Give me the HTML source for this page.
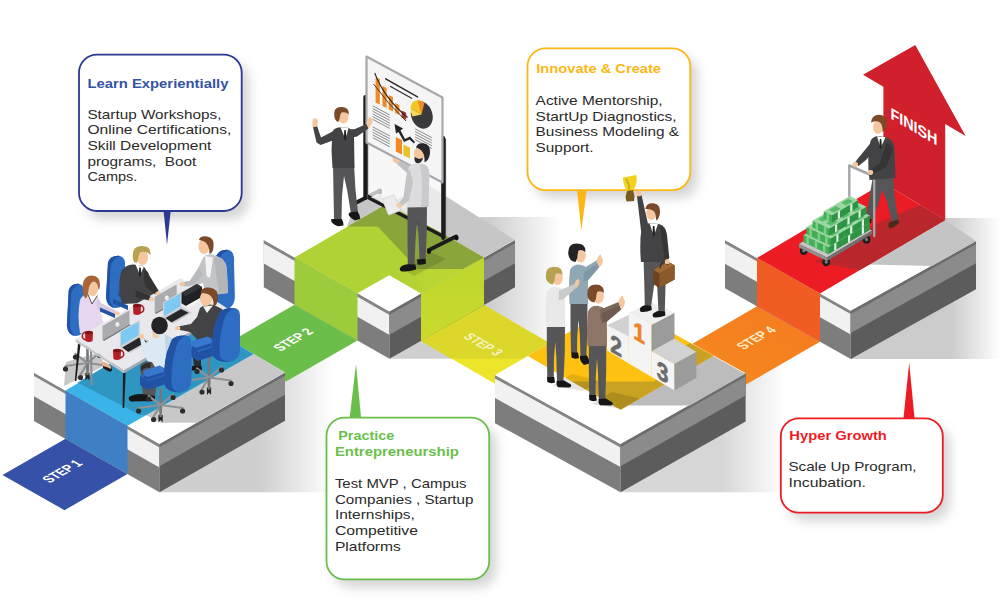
<!DOCTYPE html>
<html lang="en"><head><meta charset="utf-8"><title>Startup journey – steps</title>
<style>
html,body{margin:0;padding:0;background:#fff}
body{width:1000px;height:602px;overflow:hidden}
svg{display:block;font-family:"Liberation Sans",sans-serif}
</style></head><body>
<svg width="1000" height="602" viewBox="0 0 1000 602">
<rect width="1000" height="602" fill="#fff"/>
<defs>
<linearGradient id="gsh" x1="0" x2="1" y1="0" y2="0"><stop offset="0" stop-color="#000" stop-opacity=".17"/><stop offset="1" stop-color="#000" stop-opacity="0"/></linearGradient>
<linearGradient id="gsh2" x1="0" x2="1" y1="0" y2="0"><stop offset="0" stop-color="#000" stop-opacity=".13"/><stop offset="1" stop-color="#000" stop-opacity="0.02"/></linearGradient>
<linearGradient id="gL2" x1="0" x2="1" y1="0" y2="0"><stop offset="0" stop-color="#b1d235"/><stop offset=".55" stop-color="#b1d235"/><stop offset="1" stop-color="#c3d92d"/></linearGradient>
<linearGradient id="gR2" x1="0" x2="0" y1="0" y2="1"><stop offset="0" stop-color="#bdd62f"/><stop offset="1" stop-color="#cbda2c"/></linearGradient>
<linearGradient id="gS3" x1="0" x2="1" y1="0" y2="1"><stop offset="0" stop-color="#d6dc2c"/><stop offset="1" stop-color="#f0e628"/></linearGradient>
<linearGradient id="gS4" x1="0" x2="1" y1="1" y2="0"><stop offset="0" stop-color="#f68b1f"/><stop offset="1" stop-color="#f47a20"/></linearGradient>
<filter id="bsh" x="-20%" y="-20%" width="150%" height="150%"><feGaussianBlur stdDeviation="6"/></filter>

</defs>
<linearGradient id="gs1" gradientUnits="userSpaceOnUse" x1="260" x2="333" y1="0" y2="0"><stop offset="0" stop-color="#000" stop-opacity="0.19"/><stop offset="1" stop-color="#000" stop-opacity="0"/></linearGradient><polygon points="159.5,492.2 159.5,444.0 250.0,342.5 333.0,342.5 333.0,492.2" fill="url(#gs1)" />
<linearGradient id="gs2" gradientUnits="userSpaceOnUse" x1="490" x2="561" y1="0" y2="0"><stop offset="0" stop-color="#000" stop-opacity="0.19"/><stop offset="1" stop-color="#000" stop-opacity="0"/></linearGradient><polygon points="389.5,358.8 389.5,311.5 480.0,217.0 561.0,217.0 561.0,358.8" fill="url(#gs2)" />
<linearGradient id="gs3" gradientUnits="userSpaceOnUse" x1="720.6" x2="785.6" y1="0" y2="0"><stop offset="0" stop-color="#000" stop-opacity="0.16"/><stop offset="1" stop-color="#000" stop-opacity="0"/></linearGradient><polygon points="620.5,492.2 620.5,444.0 710.6,361.2 785.6,361.2 785.6,492.2" fill="url(#gs3)" />
<linearGradient id="gs4" gradientUnits="userSpaceOnUse" x1="951" x2="1000" y1="0" y2="0"><stop offset="0" stop-color="#000" stop-opacity="0.2"/><stop offset="1" stop-color="#000" stop-opacity="0"/></linearGradient><polygon points="850.7,359.0 850.7,310.7 941.0,218.0 1000.0,218.0 1000.0,359.0" fill="url(#gs4)" />
<polygon points="2.5,475.0 65.5,438.8 127.5,474.0 64.5,510.2" fill="#3551a8" />
<polygon points="223.0,345.8 294.5,304.8 357.5,340.6 286.0,381.6" fill="#6bbe4a" />
<polygon points="34.0,372.7 159.5,444.0 159.5,492.2 34.0,420.9" fill="#7d7d7d" />
<polygon points="34.0,372.7 159.5,444.0 159.5,467.6 34.0,396.3" fill="#f1f1f1" />
<polygon points="34.0,372.7 159.5,444.0 159.5,447.4 34.0,376.1" fill="#858585" />
<polygon points="159.5,444.0 285.0,372.5 285.0,420.7 159.5,492.2" fill="#5c5c5c" />
<polygon points="159.5,444.0 285.0,372.5 285.0,394.7 159.5,466.2" fill="#8b8b8b" />
<polygon points="159.5,444.0 285.0,372.5 285.0,375.7 159.5,447.2" fill="#6c6c6c" />
<polygon points="34.0,372.7 159.5,444.0 285.0,372.5 159.0,298.0" fill="#ffffff" />
<polygon points="146.0,415.0 161.0,422.8 196.4,422.8 285.0,372.5 253.5,353.9" fill="#c8c8c8" />
<polygon points="64.0,386.0 66.0,362.0 100.0,352.0 104.0,366.0" fill="#c8c8c8" />
<polygon points="65.5,390.6 127.5,425.8 253.5,353.9 190.5,316.6" fill="#3ab4e8" />
<polygon points="77.5,382.5 140.0,415.0 146.0,415.0 253.5,353.9 190.5,316.6" fill="#2c8fb6" opacity=".8"/>
<polygon points="65.5,390.6 127.5,425.8 127.5,474.0 65.5,438.8" fill="#3f7fc5" />
<polygon points="421.0,340.9 484.0,305.0 564.0,351.4 501.0,387.3" fill="#ece52a" />
<polygon points="421.0,340.9 484.0,305.0 564.0,351.4 552.0,358.5 451.0,358.5" fill="#dcd72b" />
<polygon points="263.8,240.0 389.5,311.5 389.5,358.8 263.8,287.3" fill="#7d7d7d" />
<polygon points="263.8,240.0 389.5,311.5 389.5,335.1 263.8,263.6" fill="#f1f1f1" />
<polygon points="263.8,240.0 389.5,311.5 389.5,314.9 263.8,243.4" fill="#858585" />
<polygon points="389.5,311.5 515.0,240.0 515.0,287.3 389.5,358.8" fill="#5c5c5c" />
<polygon points="389.5,311.5 515.0,240.0 515.0,263.2 389.5,334.7" fill="#8b8b8b" />
<polygon points="389.5,311.5 515.0,240.0 515.0,243.2 389.5,314.7" fill="#6c6c6c" />
<polygon points="263.8,240.0 389.5,311.5 515.0,240.0 389.0,169.0" fill="#ffffff" />
<polygon points="389.0,203.0 428.0,185.0 515.0,240.0 484.0,257.5" fill="#c6c6c6" />
<polygon points="294.5,257.5 389.2,202.5 484.0,257.7 421.0,293.6 389.2,275.3 357.5,293.3" fill="url(#gL2)" />
<polygon points="347.0,226.4 380.0,207.5 389.2,202.5 484.0,257.5 463.0,269.0 417.6,269.0 377.7,226.4" fill="#8aa63a" />
<polygon points="294.5,257.5 357.5,293.3 357.5,340.6 294.5,304.8" fill="#9ccb3b" />
<polygon points="421.0,293.6 484.0,257.7 484.0,305.0 421.0,340.9" fill="url(#gR2)" />
<polygon points="757.0,306.3 820.0,341.7 740.0,388.1 677.0,352.7" fill="url(#gS4)" />
<polygon points="495.0,375.0 620.5,444.0 620.5,492.2 495.0,423.2" fill="#7d7d7d" />
<polygon points="495.0,375.0 620.5,444.0 620.5,467.1 495.0,398.1" fill="#f1f1f1" />
<polygon points="495.0,375.0 620.5,444.0 620.5,447.4 495.0,378.4" fill="#858585" />
<polygon points="620.5,444.0 745.6,373.2 745.6,421.4 620.5,492.2" fill="#5c5c5c" />
<polygon points="620.5,444.0 745.6,373.2 745.6,395.4 620.5,466.2" fill="#8b8b8b" />
<polygon points="620.5,444.0 745.6,373.2 745.6,376.4 620.5,447.2" fill="#6c6c6c" />
<polygon points="495.0,375.0 620.5,444.0 745.6,373.2 619.0,303.0" fill="#ffffff" />
<polygon points="622.0,405.6 709.6,354.0 745.0,373.8 690.0,405.6" fill="#bcbcbc" />
<polygon points="650.6,320.7 713.4,355.8 745.0,373.8 690.0,344.0" fill="#c9c9c9" opacity="0"/>
<polygon points="527.8,356.0 620.6,409.8 713.4,355.8 650.6,320.7 621.3,337.7 590.3,319.7" fill="#fdc112" />
<polygon points="572.0,381.6 620.6,409.8 713.4,355.8 690.0,343.0 660.0,360.0 655.0,381.6" fill="#c9a224" />
<polygon points="725.0,240.0 850.7,310.7 850.7,359.0 725.0,288.3" fill="#7d7d7d" />
<polygon points="725.0,240.0 850.7,310.7 850.7,334.4 725.0,263.7" fill="#f1f1f1" />
<polygon points="725.0,240.0 850.7,310.7 850.7,314.1 725.0,243.4" fill="#858585" />
<polygon points="850.7,310.7 976.0,241.0 976.0,289.3 850.7,359.0" fill="#5c5c5c" />
<polygon points="850.7,310.7 976.0,241.0 976.0,263.2 850.7,332.9" fill="#8b8b8b" />
<polygon points="850.7,310.7 976.0,241.0 976.0,244.2 850.7,313.9" fill="#6c6c6c" />
<polygon points="725.0,240.0 850.7,310.7 976.0,241.0 851.0,168.0" fill="#ffffff" />
<polygon points="868.0,264.5 945.0,220.0 976.0,241.0 932.0,266.0" fill="#c4c4c4" />
<polygon points="757.0,258.0 820.0,293.4 945.2,220.0 883.4,183.0" fill="#ec1c24" />
<polygon points="815.0,262.0 860.0,270.0 945.2,220.0 920.0,205.0 880.0,222.0" fill="#b9272d" />
<polygon points="757.0,258.0 820.0,293.4 820.0,341.7 757.0,306.3" fill="#f15b24" />
<polygon points="883.4,183.0 945.2,220.0 945.2,124.0 965.6,136.0 915.3,45.0 863.0,74.8 883.4,86.8" fill="#d0202c" />
<text transform="matrix(0.866,-0.5,0.866,0.5,49.5,483.5)" font-size="14.2" font-weight="700" fill="#fff" opacity="1" textLength="39" lengthAdjust="spacingAndGlyphs">STEP 1</text>
<text transform="matrix(0.866,-0.5,0.866,0.5,280.5,351.8)" font-size="14.2" font-weight="700" fill="#fff" opacity="1" textLength="39" lengthAdjust="spacingAndGlyphs">STEP 2</text>
<text transform="matrix(0.866,0.5,-0.866,0.5,462.6,337.3)" font-size="14.2" font-weight="700" fill="#fff" opacity="0.72" textLength="38" lengthAdjust="spacingAndGlyphs">STEP 3</text>
<text transform="matrix(0.866,-0.5,0.866,0.5,743.7,349.9)" font-size="14.2" font-weight="700" fill="#fdecc8" opacity="1" textLength="38.5" lengthAdjust="spacingAndGlyphs">STEP 4</text>
<text transform="matrix(0.866,0.5,0,1,890.4,118.5)" font-size="16" font-weight="700" fill="#fff" opacity="1" textLength="54.4" lengthAdjust="spacingAndGlyphs">FINISH</text>
<rect x="86" y="62.6" width="162.7" height="156.4" rx="18" fill="#000" opacity=".17" filter="url(#bsh)"/>
<polygon points="163.5,210.0 170.8,210.0 167.0,244.7" fill="#2b3990" />
<rect x="79" y="54.6" width="162.7" height="156.4" rx="18" fill="#fff" stroke="#2b3990" stroke-width="1.8"/>
<text x="87.4" y="88.3" font-size="13.6" font-weight="700" fill="#3353a4" textLength="141" lengthAdjust="spacingAndGlyphs">Learn Experientially</text>
<text x="87.4" y="118.6" font-size="13.3" font-weight="400" fill="#2a2a2a" textLength="134" lengthAdjust="spacingAndGlyphs">Startup Workshops,</text>
<text x="87.4" y="134.3" font-size="13.3" font-weight="400" fill="#2a2a2a" textLength="144" lengthAdjust="spacingAndGlyphs">Online Certifications,</text>
<text x="87.4" y="150" font-size="13.3" font-weight="400" fill="#2a2a2a" textLength="124" lengthAdjust="spacingAndGlyphs">Skill Development</text>
<text xml:space="preserve" x="87.4" y="165.7" font-size="13.3" font-weight="400" fill="#2a2a2a" textLength="109" lengthAdjust="spacingAndGlyphs">programs,  Boot</text>
<text x="87.4" y="181.4" font-size="13.3" font-weight="400" fill="#2a2a2a" textLength="50" lengthAdjust="spacingAndGlyphs">Camps.</text>
<rect x="534.5" y="56.3" width="162.79999999999995" height="141.8" rx="18" fill="#000" opacity=".17" filter="url(#bsh)"/>
<polygon points="577.0,189.0 586.8,189.0 581.3,230.4" fill="#fdb714" />
<rect x="527.5" y="48.3" width="162.79999999999995" height="141.8" rx="18" fill="#fff" stroke="#fdb714" stroke-width="1.8"/>
<text x="536.3" y="73.1" font-size="13.6" font-weight="700" fill="#fdb714" textLength="124.7" lengthAdjust="spacingAndGlyphs">Innovate &amp; Create</text>
<text x="535.6" y="105" font-size="13.3" font-weight="400" fill="#2a2a2a" textLength="127" lengthAdjust="spacingAndGlyphs">Active Mentorship,</text>
<text x="535.6" y="120.7" font-size="13.3" font-weight="400" fill="#2a2a2a" textLength="141" lengthAdjust="spacingAndGlyphs">StartUp Diagnostics,</text>
<text x="535.6" y="136.4" font-size="13.3" font-weight="400" fill="#2a2a2a" textLength="143.4" lengthAdjust="spacingAndGlyphs">Business Modeling &amp;</text>
<text x="535.6" y="152.1" font-size="13.3" font-weight="400" fill="#2a2a2a" textLength="58" lengthAdjust="spacingAndGlyphs">Support.</text>
<rect x="333.5" y="425.7" width="162.7" height="161.59999999999997" rx="18" fill="#000" opacity=".17" filter="url(#bsh)"/>
<polygon points="349.5,419.0 361.2,419.0 356.0,364.0" fill="#6abf4b" />
<rect x="326.5" y="417.7" width="162.7" height="161.59999999999997" rx="18" fill="#fff" stroke="#6abf4b" stroke-width="1.8"/>
<text x="338.2" y="440.3" font-size="13.6" font-weight="700" fill="#6abf4b" textLength="56" lengthAdjust="spacingAndGlyphs">Practice</text>
<text x="334.9" y="456" font-size="13.6" font-weight="700" fill="#6abf4b" textLength="124" lengthAdjust="spacingAndGlyphs">Entrepreneurship</text>
<text x="334.9" y="487.9" font-size="13.3" font-weight="400" fill="#2a2a2a" textLength="131.6" lengthAdjust="spacingAndGlyphs">Test MVP , Campus</text>
<text x="334.9" y="503.6" font-size="13.3" font-weight="400" fill="#2a2a2a" textLength="138.5" lengthAdjust="spacingAndGlyphs">Companies , Startup</text>
<text x="334.9" y="519.3" font-size="13.3" font-weight="400" fill="#2a2a2a" textLength="80" lengthAdjust="spacingAndGlyphs">Internships,</text>
<text x="334.9" y="535" font-size="13.3" font-weight="400" fill="#2a2a2a" textLength="83" lengthAdjust="spacingAndGlyphs">Competitive</text>
<text x="334.9" y="550.7" font-size="13.3" font-weight="400" fill="#2a2a2a" textLength="66" lengthAdjust="spacingAndGlyphs">Platforms</text>
<rect x="787.8" y="426.4" width="162.0" height="94.30000000000007" rx="18" fill="#000" opacity=".17" filter="url(#bsh)"/>
<polygon points="903.3,420.0 914.7,420.0 909.2,362.8" fill="#ed1c24" />
<rect x="780.8" y="418.4" width="162.0" height="94.30000000000007" rx="18" fill="#fff" stroke="#ed1c24" stroke-width="1.8"/>
<text x="789.3" y="439.6" font-size="13.6" font-weight="700" fill="#ed1c24" textLength="97.6" lengthAdjust="spacingAndGlyphs">Hyper Growth</text>
<text x="788.5" y="471.4" font-size="13.3" font-weight="400" fill="#2a2a2a" textLength="128" lengthAdjust="spacingAndGlyphs">Scale Up Program,</text>
<text x="788.5" y="487.1" font-size="13.3" font-weight="400" fill="#2a2a2a" textLength="77.5" lengthAdjust="spacingAndGlyphs">Incubation.</text>
<line x1="87.5" y1="340" x2="87.5" y2="369" stroke="#77797b" stroke-width="2.6" stroke-linecap="round" />
<line x1="87.5" y1="363" x2="65.5" y2="366" stroke="#8f9294" stroke-width="2.2" stroke-linecap="round" />
<ellipse cx="65.5" cy="369" rx="2.6" ry="2.6" fill="#2d2d2d" />
<line x1="87.5" y1="363" x2="109.5" y2="366" stroke="#8f9294" stroke-width="2.2" stroke-linecap="round" />
<ellipse cx="109.5" cy="369" rx="2.6" ry="2.6" fill="#2d2d2d" />
<line x1="87.5" y1="363" x2="80.5" y2="374.5" stroke="#8f9294" stroke-width="2.2" stroke-linecap="round" />
<ellipse cx="80.5" cy="377.5" rx="2.6" ry="2.6" fill="#2d2d2d" />
<line x1="87.5" y1="363" x2="100.0" y2="352.5" stroke="#8f9294" stroke-width="2.2" stroke-linecap="round" />
<ellipse cx="100.0" cy="355.5" rx="2.6" ry="2.6" fill="#2d2d2d" />
<line x1="87.5" y1="363" x2="75.5" y2="354" stroke="#8f9294" stroke-width="2.2" stroke-linecap="round" />
<ellipse cx="75.5" cy="357" rx="2.6" ry="2.6" fill="#2d2d2d" />
<path d="M85.3,373 L89.7,373 L89.5,380.5 L87.5,378 L85.5,380.5 Z" fill="#222" />
<line x1="87.5" y1="365" x2="87.5" y2="374" stroke="#77797b" stroke-width="2.6" stroke-linecap="round" />
<path d="M68.7,290.24 Q71.4,282.96 79.5,284 Q85,285.56 84,295.44 L84.9,325.6 Q84,336 75.9,336 Q67.8,336 66.9,325.6 Z" fill="#2e6ec2" /><path d="M68.7,290.24 Q71.4,282.96 79.5,284 Q72.3,287.12 71.04,294.4 L69.96,325.6 Q70.5,334 75.9,336 Q67.8,336 66.9,325.6 Z" fill="#2252a3" />
<path d="M108.0,262.24 Q111.0,254.96 120.0,256 Q126,257.56 125,267.44 L125.9,297.6 Q125,308 116.0,308 Q107.0,308 106.0,297.6 Z" fill="#2e6ec2" /><path d="M108.0,262.24 Q111.0,254.96 120.0,256 Q112.0,259.12 110.6,266.4 L109.4,297.6 Q110.0,306 116.0,308 Q107.0,308 106.0,297.6 Z" fill="#2252a3" />
<path d="M215.725,257.08 Q218.95,248.82 228.625,250 Q235,251.77 234,262.98 L234.9,297.2 Q234,309 224.325,309 Q214.65,309 213.575,297.2 Z" fill="#2e6ec2" /><path d="M215.725,257.08 Q218.95,248.82 228.625,250 Q220.025,253.54 218.52,261.8 L217.23,297.2 Q217.875,307 224.325,309 Q214.65,309 213.575,297.2 Z" fill="#2252a3" />
<path d="M80,316 l18,8 l0,5 l-18,-8 Z" fill="#2252a3" />
<path d="M118,291 l16,7 l0,5 l-16,-7 Z" fill="#2252a3" />
<path d="M80,300 Q82,294 90,294 L97,296 Q101,300 100,308 L103,322 L113,329 L111,333 L98,328 L97,336 L80,333 Q77,315 80,300 Z" fill="#e6d7ee" />
<path d="M88,294 L92,303 L97,296 Z" fill="#fff" />
<path d="M87.5,293.5 L92,304 L97.5,295.5" fill="none" stroke="#555" stroke-width="1"/>
<ellipse cx="112.5" cy="331" rx="2.6" ry="2" fill="#f5c7a0" />
<ellipse cx="92.5" cy="288.5" rx="5.6" ry="7.4" fill="#f5c7a0" />
<path d="M83,291 Q81,277 91,275.5 Q100.5,275 100,286 Q99.5,289 98.6,290 Q98,281.5 93,281.5 Q89,284 88.5,290 Q88,297 85.5,298.5 Q83,296 83,291 Z" fill="#a9643a" />
<path d="M121,272 Q125,264 134,264.5 L143,266 Q148,270 148,278 L152,291 L160,297 L158,301 L147,296 L146,303 L122,304 Q117,288 121,272 Z" fill="#434345" />
<path d="M135.5,264.5 L140,275 L144,266.5 Z" fill="#fff" />
<path d="M139.2,267.5 L140.8,267.5 L141.2,275 L140,277 L138.8,275 Z" fill="#222" />
<ellipse cx="160" cy="299.5" rx="2.6" ry="2" fill="#f5c7a0" />
<ellipse cx="142.5" cy="257.5" rx="5.6" ry="7.6" fill="#f5c7a0" />
<path d="M133,259 Q131,246.5 141,246 Q151.5,245.5 150.5,255 Q147,250.5 140.5,252 Q138.2,255 138,260 L136.5,263 Q133.5,262.5 133,259 Z" fill="#b7a24f" />
<path d="M203,258 Q206,253.5 213,254.5 L221,258 Q227,262 227,272 L228,293 L206,296 L203,283 L190,287 L182,284.5 L183,281 L190,281.5 L198,268 Z" fill="#c3c4c6" />
<path d="M205,256 L206.5,276 L210,278 L213,257.5 Z" fill="#f4f4f4" />
<path d="M214,258 L221,258 Q227,262 227,272 L228,293 L219,294 Z" fill="#b4b5b7" />
<ellipse cx="181.5" cy="283" rx="2.8" ry="2.1" fill="#f5c7a0" />
<ellipse cx="204" cy="246.5" rx="5.6" ry="7.4" fill="#f5c7a0" />
<path d="M199,240 Q200,235.5 207,236.5 Q214.5,237.5 213.5,247 Q213,253 209.5,254 Q209.5,248 207.5,245 Q206,241 199,240 Z" fill="#7a4a2b" />
<polygon points="75.7,339.0 124.0,370.4 229.0,309.4 180.7,278.0" fill="#e9e9ed" />
<polygon points="75.7,339.0 124.0,370.4 124.0,373.2 75.7,341.8" fill="#c4c4ca" />
<polygon points="124.0,370.4 229.0,309.4 229.0,312.2 124.0,373.2" fill="#a9a9b0" />
<path d="M123,373 L125.6,373 L124.2,408 L122.6,408 Z" fill="#1d1d1f" />
<path d="M78,343.5 L80.4,345 L76.3,381 L74.8,381 Z" fill="#1d1d1f" />
<path d="M90,351 L92,352 L92.6,385 L90.6,385 Z" fill="#8a8c8e" />
<path d="M101,362 Q106,361 111,367 Q111.5,370 108,370 Q103,368.5 101,362 Z" fill="#e9b48c" />
<path d="M103,366 Q108,367 112,369.5 L111,371.5 Q106,371 103,368 Z" fill="#1b1b1b" />
<path d="M96.5,300 Q100,299 101,303 L116,310.5 L115,314.5 L99.5,311.5 Q96,308 96.5,300 Z" fill="#d9c9e3" />
<ellipse cx="117" cy="313.3" rx="2.7" ry="2.0" fill="#f5c7a0" />
<path d="M144,271 Q148,270 149,275 L158.5,290.5 L155.5,294.5 L146,287 Q143,280 144,271 Z" fill="#333334" />
<ellipse cx="158" cy="293.5" rx="2.7" ry="2.1" fill="#f5c7a0" />
<path d="M136,290 L150.5,296.5 L149.5,300.5 L135.5,297.5 Z" fill="#333334" />
<ellipse cx="151.5" cy="299.3" rx="2.6" ry="2.0" fill="#f5c7a0" />
<path d="M100,307.5 l15,6.5 l0,4 l-15,-6.5 Z" fill="#2252a3" />
<path d="M113,299 l15,6.5 l0,4.5 l-15,-6.5 Z" fill="#2252a3" />
<path d="M199,268 L203.5,275 L190,286.5 L183.5,286 L182.5,282.5 L189.5,281 Z" fill="#b9babc" />
<ellipse cx="182" cy="284.3" rx="2.7" ry="2.0" fill="#f5c7a0" />
<polygon points="102.5,340.0 129.5,324.3 129.5,310.3 102.5,326.0" fill="#a9abae" /><polygon points="102.5,340.0 129.5,324.3 131.0,325.2 104.0,340.9" fill="#7a7c7f" /><ellipse cx="117.35" cy="324.387" rx="2.1" ry="2.4" fill="#eeeeee" />
<polygon points="154.7,313.0 176.7,300.2 176.7,284.2 154.7,297.0" fill="#a9abae" /><polygon points="154.7,313.0 176.7,300.2 178.2,301.1 156.2,313.9" fill="#7a7c7f" /><ellipse cx="166.79999999999998" cy="297.98199999999997" rx="2.1" ry="2.4" fill="#eeeeee" />
<ellipse cx="85.5" cy="336" rx="3.2" ry="3.6" fill="none" stroke="#a51d22" stroke-width="1.6"/><path d="M85,332.5 L93,332.5 L92.6,341 Q89,343 85.4,341 Z" fill="#b32126" /><ellipse cx="89" cy="332.5" rx="4" ry="1.7" fill="#7c1418" />
<ellipse cx="140.5" cy="309" rx="3.2" ry="3.6" fill="none" stroke="#a51d22" stroke-width="1.6"/><path d="M133,305.5 L141,305.5 L140.6,314 Q137,316 133.4,314 Z" fill="#b32126" /><ellipse cx="137" cy="305.5" rx="4" ry="1.7" fill="#7c1418" />
<polygon points="181.0,293.0 197.0,284.0 202.0,287.0 202.0,297.0 186.0,306.0 181.0,303.0" fill="#202124" />
<polygon points="181.0,293.0 197.0,284.0 202.0,287.0 186.0,296.0" fill="#34363a" />
<polygon points="186.0,306.0 202.0,297.0 204.0,299.0 188.0,308.5" fill="#f2f2f2" />
<polygon points="163.0,317.5 181.5,306.8 191.9,312.8 173.4,323.5" fill="#c9cbce" /><polygon points="165.5,318.1 181.0,309.0 188.7,312.8 171.4,322.5" fill="#26272a" /><polygon points="163.0,317.5 181.5,306.8 181.5,291.8 163.0,302.5" fill="#cfd3d6" /><polygon points="164.2,316.1 180.3,306.6 180.3,293.6 164.2,303.1" fill="#7cc9f3" />
<polygon points="119.8,347.0 139.8,335.4 150.2,341.4 130.2,353.0" fill="#c9cbce" /><polygon points="122.3,347.6 139.3,337.6 147.0,341.4 128.2,352.0" fill="#26272a" /><polygon points="119.8,347.0 139.8,335.4 139.8,319.9 119.8,331.5" fill="#cfd3d6" /><polygon points="121.0,345.6 138.6,335.2 138.6,321.7 121.0,332.1" fill="#7cc9f3" />
<ellipse cx="120.5" cy="354" rx="3.2" ry="3.6" fill="none" stroke="#a51d22" stroke-width="1.6"/><path d="M113,350.5 L121,350.5 L120.6,359 Q117,361 113.4,359 Z" fill="#b32126" /><ellipse cx="117" cy="350.5" rx="4" ry="1.7" fill="#7c1418" />
<path d="M200,308 Q206,303 214,305 L222,309 Q226,314 225,324 L223,345 L199,352 L196,338 L190,332 L180,330 L178,326.5 L191,324 L197,317 Z" fill="#434345" />
<path d="M203,306.5 L207,313 L213,305.5 Z" fill="#f2f2f2" />
<ellipse cx="177.5" cy="328" rx="2.8" ry="2" fill="#f5c7a0" />
<ellipse cx="206" cy="298.5" rx="6" ry="7.6" fill="#f5c7a0" />
<path d="M200.5,293 Q201,287 209,287.5 Q218.5,288.5 218,298 Q217.5,305.5 213.5,306.5 Q214,300 211.5,297 Q209,293 200.5,293 Z" fill="#7a4a2b" />
<path d="M192,352 L204,348 L204,356 L201,358 L201,367 L194,367 L193,358 Z" fill="#2d2d2f" />
<path d="M192,366 L201.5,366 L202,370.5 L191.5,370.5 Z" fill="#161616" />
<line x1="209" y1="358" x2="209" y2="383.5" stroke="#77797b" stroke-width="2.6" stroke-linecap="round" />
<line x1="209" y1="377.5" x2="187" y2="380.5" stroke="#8f9294" stroke-width="2.2" stroke-linecap="round" />
<ellipse cx="187" cy="383.5" rx="2.6" ry="2.6" fill="#2d2d2d" />
<line x1="209" y1="377.5" x2="231" y2="380.5" stroke="#8f9294" stroke-width="2.2" stroke-linecap="round" />
<ellipse cx="231" cy="383.5" rx="2.6" ry="2.6" fill="#2d2d2d" />
<line x1="209" y1="377.5" x2="202" y2="389.0" stroke="#8f9294" stroke-width="2.2" stroke-linecap="round" />
<ellipse cx="202" cy="392.0" rx="2.6" ry="2.6" fill="#2d2d2d" />
<line x1="209" y1="377.5" x2="221.5" y2="367.0" stroke="#8f9294" stroke-width="2.2" stroke-linecap="round" />
<ellipse cx="221.5" cy="370.0" rx="2.6" ry="2.6" fill="#2d2d2d" />
<line x1="209" y1="377.5" x2="197" y2="368.5" stroke="#8f9294" stroke-width="2.2" stroke-linecap="round" />
<ellipse cx="197" cy="371.5" rx="2.6" ry="2.6" fill="#2d2d2d" />
<path d="M206.8,387.5 L211.2,387.5 L211,395.0 L209,392.5 L207,395.0 Z" fill="#222" />
<line x1="209" y1="379.5" x2="209" y2="388.5" stroke="#77797b" stroke-width="2.6" stroke-linecap="round" />
<path d="M190,347 L214,339 L222,344 L222,353 L198,361 L190,356 Z" fill="#2252a3" />
<path d="M190,347 L214,339 L222,344 L198,352 Z" fill="#2e6ec2" />
<path d="M220.05,311.78 Q224.325,307.46 234.3,308.0 Q240.0,308.54 240.0,315.56 L240.0,350.12 Q239.43,360.38 229.17,362.0 Q214.92,362.0 212.64,354.44 Q210.93,340.4 214.92,324.2 Z" fill="#2e6ec2" /><path d="M220.05,311.78 Q224.325,307.46 234.3,308.0 Q227.175,310.7 224.325,318.8 Q217.77,340.4 220.05,356.6 Q221.475,360.92 229.17,362.0 Q214.92,362.0 212.64,354.44 Q210.93,340.4 214.92,324.2 Z" fill="#2252a3" />
<path d="M192,341 l15.5,-4.5 l4,2 l0,4.5 l-15.5,5 l-4,-2 Z" fill="#3878cf" />
<path d="M192,346 l4,2 l15.5,-5 l0,3 l-15.5,5 l-4,-2 Z" fill="#2252a3" />
<path d="M151,338 Q157,332 165,334.5 L172,338 Q176,343 175,352 L174,372 L150,377 L148,362 L142,350 L140,338 L143,337 L147,346 Z" fill="#dbe9f3" />
<path d="M165,334.5 L172,338 Q176,343 175,352 L174,372 L166,374 Z" fill="#c3d5e2" />
<ellipse cx="141.5" cy="336.5" rx="2.6" ry="2.4" fill="#f5c7a0" />
<ellipse cx="159.5" cy="325.5" rx="8.3" ry="8.8" fill="#232325" />
<path d="M152,330 Q154,335 159,335.5 L158,338.5 L153,337 Z" fill="#f5c7a0" />
<path d="M140,366 Q143,360 152,362 L158,372 L155,397 L143,397 Z" fill="#565658" />
<path d="M141,367 Q145,362 151,363 L150,368 Q146,366 141,371 Z" fill="#2c2c2e" />
<path d="M129,397 Q136,392.5 146,394.5 L155,396 L155,401 L131,401.5 Q128,400 129,397 Z" fill="#161616" />
<line x1="160.6" y1="389" x2="160.6" y2="411" stroke="#77797b" stroke-width="2.6" stroke-linecap="round" />
<line x1="160.6" y1="405" x2="138.6" y2="408" stroke="#8f9294" stroke-width="2.2" stroke-linecap="round" />
<ellipse cx="138.6" cy="411" rx="2.6" ry="2.6" fill="#2d2d2d" />
<line x1="160.6" y1="405" x2="182.6" y2="408" stroke="#8f9294" stroke-width="2.2" stroke-linecap="round" />
<ellipse cx="182.6" cy="411" rx="2.6" ry="2.6" fill="#2d2d2d" />
<line x1="160.6" y1="405" x2="153.6" y2="416.5" stroke="#8f9294" stroke-width="2.2" stroke-linecap="round" />
<ellipse cx="153.6" cy="419.5" rx="2.6" ry="2.6" fill="#2d2d2d" />
<line x1="160.6" y1="405" x2="173.1" y2="394.5" stroke="#8f9294" stroke-width="2.2" stroke-linecap="round" />
<ellipse cx="173.1" cy="397.5" rx="2.6" ry="2.6" fill="#2d2d2d" />
<line x1="160.6" y1="405" x2="148.6" y2="396" stroke="#8f9294" stroke-width="2.2" stroke-linecap="round" />
<ellipse cx="148.6" cy="399" rx="2.6" ry="2.6" fill="#2d2d2d" />
<path d="M158.4,415 L162.79999999999998,415 L162.6,422.5 L160.6,420 L158.6,422.5 Z" fill="#222" />
<line x1="160.6" y1="407" x2="160.6" y2="416" stroke="#77797b" stroke-width="2.6" stroke-linecap="round" />
<path d="M140,376 L164,368 L172,373 L172,382 L148,390 L140,385 Z" fill="#2252a3" />
<path d="M140,376 L164,368 L172,373 L148,381 Z" fill="#2e6ec2" />
<path d="M171.9,339.49 Q176.1,334.93 185.9,335.5 Q191.5,336.07 191.5,343.48 L191.5,379.96 Q190.94,390.79 180.86,392.5 Q166.86,392.5 164.62,384.52 Q162.94,369.7 166.86,352.6 Z" fill="#2e6ec2" /><path d="M171.9,339.49 Q176.1,334.93 185.9,335.5 Q178.9,338.35 176.1,346.9 Q169.66,369.7 171.9,386.8 Q173.3,391.36 180.86,392.5 Q166.86,392.5 164.62,384.52 Q162.94,369.7 166.86,352.6 Z" fill="#2252a3" />
<path d="M143.5,370.5 l16,-5 l4,2 l0,4.5 l-16,5 l-4,-2 Z" fill="#3878cf" />
<path d="M143.5,375 l4,2 l16,-5 l0,3 l-16,5 l-4,-2 Z" fill="#2252a3" />
<polygon points="347.0,226.4 380.0,207.5 382.0,194.5 355.0,204.0" fill="#c6c6c6" />
<line x1="353.5" y1="204" x2="380" y2="190.5" stroke="#1c1c1e" stroke-width="4.0" stroke-linecap="round" />
<line x1="429" y1="250" x2="456" y2="236.5" stroke="#1c1c1e" stroke-width="4.0" stroke-linecap="round" />
<line x1="366" y1="196.5" x2="442.5" y2="236" stroke="#1c1c1e" stroke-width="3.2" stroke-linecap="round" />
<ellipse cx="354" cy="205.5" rx="2.2" ry="2.4" fill="#111" />
<ellipse cx="380" cy="192" rx="2.2" ry="2.4" fill="#111" />
<ellipse cx="429" cy="251.5" rx="2.2" ry="2.4" fill="#111" />
<ellipse cx="456.5" cy="238" rx="2.2" ry="2.4" fill="#111" />
<polygon points="367.0,142.0 442.0,182.0 442.0,233.0 367.0,194.0" fill="#f4f4f4" opacity=".75"/>
<line x1="365.3" y1="97" x2="365.3" y2="198" stroke="#1c1c1e" stroke-width="4.0" stroke-linecap="round" stroke-linecap="butt"/>
<line x1="367.6" y1="98" x2="367.6" y2="198" stroke="#4a4a4c" stroke-width="1.2" stroke-linecap="round" stroke-linecap="butt"/>
<line x1="443.2" y1="138" x2="443.2" y2="238" stroke="#1c1c1e" stroke-width="4.0" stroke-linecap="round" stroke-linecap="butt"/>
<line x1="445.5" y1="139" x2="445.5" y2="238" stroke="#4a4a4c" stroke-width="1.2" stroke-linecap="round" stroke-linecap="butt"/>
<polygon points="366.5,56.5 442.5,97.5 442.5,182.5 366.5,142.5" fill="#f5f5f5" stroke="#a6a8ab" stroke-width="2.2" stroke-linejoin="round"/>
<polygon points="375.6,77.0 379.8,79.1 379.8,104.6 375.6,102.5" fill="#ef8a25" />
<polygon points="382.4,86.0 386.6,88.1 386.6,108.1 382.4,106.0" fill="#ef8a25" />
<polygon points="388.8,95.0 393.0,97.1 393.0,111.6 388.8,109.5" fill="#ef8a25" />
<polygon points="395.2,103.0 399.4,105.1 399.4,115.1 395.2,113.0" fill="#ef8a25" />
<polygon points="401.6,110.5 406.2,112.8 406.2,119.8 401.6,117.5" fill="#b3322b" />
<path d="M374.7,73 Q384,98 407.6,117.5" fill="none" stroke="#2a2a2a" stroke-width="1.1"/>
<path d="M373.5,84 Q388,104 406,121" fill="none" stroke="#2a2a2a" stroke-width="0.9"/>
<line x1="385.7" y1="78.9" x2="417.5" y2="96.9" stroke="#2b2b2b" stroke-width="1.5" stroke-linecap="round" />
<line x1="390.6" y1="86.5" x2="411.6" y2="98.2" stroke="#2b2b2b" stroke-width="1.2" stroke-linecap="round" />
<line x1="373" y1="106.0" x2="389.5" y2="114.8" stroke="#8a8a8a" stroke-width="1.0" stroke-linecap="round" />
<line x1="373" y1="108.7" x2="389.5" y2="117.5" stroke="#8a8a8a" stroke-width="1.0" stroke-linecap="round" />
<line x1="373" y1="111.4" x2="389.5" y2="120.2" stroke="#8a8a8a" stroke-width="1.0" stroke-linecap="round" />
<line x1="373" y1="114.1" x2="389.5" y2="122.89999999999999" stroke="#8a8a8a" stroke-width="1.0" stroke-linecap="round" />
<line x1="373" y1="116.8" x2="389.5" y2="125.6" stroke="#8a8a8a" stroke-width="1.0" stroke-linecap="round" />
<line x1="373" y1="119.5" x2="389.5" y2="128.3" stroke="#8a8a8a" stroke-width="1.0" stroke-linecap="round" />
<line x1="373" y1="127.0" x2="389.5" y2="135.8" stroke="#8a8a8a" stroke-width="1.0" stroke-linecap="round" />
<line x1="373" y1="129.7" x2="389.5" y2="138.5" stroke="#8a8a8a" stroke-width="1.0" stroke-linecap="round" />
<line x1="373" y1="132.4" x2="389.5" y2="141.20000000000002" stroke="#8a8a8a" stroke-width="1.0" stroke-linecap="round" />
<line x1="373" y1="135.1" x2="389.5" y2="143.9" stroke="#8a8a8a" stroke-width="1.0" stroke-linecap="round" />
<line x1="373" y1="137.8" x2="389.5" y2="146.60000000000002" stroke="#8a8a8a" stroke-width="1.0" stroke-linecap="round" />
<line x1="415.5" y1="129.0" x2="431.5" y2="137.5" stroke="#8a8a8a" stroke-width="1.0" stroke-linecap="round" />
<line x1="415.5" y1="131.7" x2="431.5" y2="140.2" stroke="#8a8a8a" stroke-width="1.0" stroke-linecap="round" />
<line x1="415.5" y1="134.4" x2="431.5" y2="142.9" stroke="#8a8a8a" stroke-width="1.0" stroke-linecap="round" />
<line x1="415.5" y1="137.1" x2="431.5" y2="145.6" stroke="#8a8a8a" stroke-width="1.0" stroke-linecap="round" />
<line x1="415.5" y1="139.8" x2="431.5" y2="148.3" stroke="#8a8a8a" stroke-width="1.0" stroke-linecap="round" />
<ellipse cx="421.8" cy="115" rx="10.6" ry="14" fill="#3a3a3c" transform="rotate(-18 421.8 115)"/>
<path d="M421.5,114.5 L410.5,108 Q411,101 417.5,100.2 L423,101.5 Z" fill="#f3c623" />
<path d="M421.5,114.5 L417.5,100.2 Q421,100 424.5,103 Z" fill="#ef8a25" />
<path d="M421.5,114.5 L410.5,108 Q410.8,113.5 412.5,116.5 Z" fill="#f6d959" />
<path d="M394.5,124 L403,128.5 L400.5,130.5 L405,139 L410,136.5 L415,142 L414,143.5 L409.5,139.5 L404,142 L398.5,132 L396,133.5 Z" fill="#242424" />
<polygon points="395.8,137.0 402.0,140.1 402.0,154.6 395.8,151.5" fill="#ef8a25" />
<polygon points="403.4,144.5 410.0,147.8 410.0,158.6 403.4,155.3" fill="#e7c12a" />
<path d="M333,164 L354,164 L355.5,190 L358,212 L351,214 L347.5,192 L344,176 L342,196 L341.5,219.5 L334,219 L333.5,192 Z" fill="#565658" />
<path d="M331.3,219 L341.8,219 Q344,222.5 343.5,225.5 L338,226.3 Q332.5,224 331.3,221.5 Z" fill="#161616" />
<path d="M349.5,212.5 L357.5,211.5 Q360.5,215.5 360.3,219 L355,220.5 Q349.5,217.5 348.5,214.5 Z" fill="#161616" />
<path d="M349,129.5 L355,129 L366.5,124 L368.5,128.5 L357,136.5 L350,138 Z" fill="#434345" />
<path d="M366.5,124 Q367,118.5 370,117 Q373,118 372.5,122.5 L368.8,128.5 Z" fill="#f5c7a0" />
<path d="M332.5,131.5 Q335,127.3 341,127.3 L348,127.8 Q353.5,129.5 354,136 L354.5,168 L332.5,168 L331.5,150 Z" fill="#434345" />
<path d="M340.5,127.3 L345.5,139.5 L348.5,127.8 Z" fill="#fff" />
<path d="M344.3,130 L345.8,130 L346.4,138 L345.2,141 L343.9,138 Z" fill="#1f1f1f" />
<path d="M334.5,130.5 L321,137.5 L317,126 L313,127 L316.5,142.5 L320.5,145 L335.5,139.5 Z" fill="#434345" />
<path d="M312.8,127.2 Q311.5,121.5 313.5,118.5 Q316.5,117.5 318,120.5 L317.3,126.2 Z" fill="#f5c7a0" />
<ellipse cx="343.3" cy="116.5" rx="5.3" ry="7" fill="#f5c7a0" />
<path d="M334.3,116 Q333,107.5 340.5,107 Q349.5,106.5 348.8,114.5 Q346,111.5 341.5,112.5 Q339.6,115 339.5,119 L338.3,122 Q334.8,121 334.3,116 Z" fill="#7a4a2b" />
<polygon points="399.0,268.0 430.0,252.0 446.0,259.0 414.0,276.0" fill="#000" opacity=".12"/>
<path d="M407.5,203 L427,203 L426.8,232 L425.5,259.5 L419.5,260 L418.5,236 L417,222 L415.5,240 L414.5,265.5 L407.8,265.5 L407.5,236 Z" fill="#565658" />
<path d="M399.8,268.5 Q401.5,264.5 408,264.2 L415.5,264.5 L416.4,269.5 Q408,272 401,271.2 Q399.6,270.5 399.8,268.5 Z" fill="#161616" />
<path d="M417,259.5 L425.6,258.8 L426,263.5 Q421,265.5 417.5,264.5 Z" fill="#161616" />
<path d="M411,166 L399.5,160.5 L397,164 L408.5,174.5 L414,175 Z" fill="#bfc0c2" />
<path d="M399.8,160.6 Q396,157.3 393,158 Q391.8,160.5 394.5,162.5 L397.2,164 Z" fill="#f5c7a0" />
<path d="M408.5,168 Q411,163 418,163.3 L424.5,164.5 Q429.3,167 429.3,174 L428.5,207 L406.8,207.5 Q406,186 408.5,168 Z" fill="#dcdcde" />
<path d="M420,164 L424.5,164.5 Q429.3,167 429.3,174 L428.5,207 L421,207.3 Q423.5,186 420,164 Z" fill="#c9cacc" />
<polygon points="381.9,199.0 394.0,194.8 401.0,210.5 388.5,215.2" fill="#ececec" stroke="#c9c9c9" stroke-width=".6"/>
<path d="M410,170 Q406.5,171 406,178 L403.5,197 L398.5,203.5 L401.5,206.5 L409,200.5 L413,182 Z" fill="#c3c4c6" />
<ellipse cx="399.3" cy="205.2" rx="2.8" ry="2.3" fill="#f5c7a0" />
<ellipse cx="419.2" cy="154" rx="5.4" ry="7.2" fill="#f5c7a0" />
<path d="M414.5,157 Q414,163.5 418.5,163.3 Q422,162.5 423,158 L419,159 Z" fill="#2b2b2d" />
<path d="M416,147.5 Q417,142.8 423.5,143.3 Q430.8,144.5 430,153 Q429.3,160.5 424.5,162.3 Q424.8,155 422.5,152 Q420.5,148.5 416,147.5 Z" fill="#29292b" />
<polygon points="552.0,386.0 572.0,374.0 600.0,381.0 583.0,391.0" fill="#000" opacity=".10"/>
<path d="M570.5,301 L587.5,301 L587.2,330 L586.5,356 L580.5,356.5 L579.8,334 L578.5,320 L577.3,336 L577,353 L571,353 L570.5,328 Z" fill="#565658" />
<path d="M571.3,352.5 L578,352.5 L579,358 Q574.5,359.5 571.5,357.5 Z" fill="#161616" />
<path d="M580,356 L587,355.5 Q589.8,359.5 589.4,363.5 L584,365 Q580.5,362 580,359 Z" fill="#161616" />
<path d="M570,270 Q572.5,264.5 579,264.5 L584.5,266 Q588,269 588,275 L588.2,304 L569.5,304 Q568.3,285 570,270 Z" fill="#8fa8b4" />
<path d="M583,268.5 L596.5,260.5 L598.3,264.5 L586.5,277.5 L582,278 Z" fill="#8fa8b4" />
<path d="M596.5,260.5 Q598,255.5 600.5,254.5 Q602.5,256.5 601,260.5 L598.4,264.7 Z" fill="#f5c7a0" />
<path d="M584,272 L597.5,263.5 L599.5,267 L588,280.5 L583.5,281 Z" fill="#7f98a4" />
<path d="M597.5,263.5 Q599.5,258.5 602,258 Q603.8,260 602.3,263.8 L599.6,267.2 Z" fill="#f5c7a0" />
<ellipse cx="580.5" cy="255.5" rx="5.3" ry="7" fill="#f5c7a0" />
<path d="M568.3,254 Q567.5,243.5 576.5,243.5 Q586,243.5 585.3,252 Q582,249 578.5,250.5 Q577.5,254 577.3,258 L575.5,262 Q569,261 568.3,254 Z" fill="#232325" />
<path d="M546.8,323 L565,323 L564.8,352 L563.5,381 L557,381.5 L556.3,356 L555.3,342 L554,358 L553.8,377.5 L547.3,377.5 L546.8,350 Z" fill="#565658" />
<path d="M547,377 L554.2,377 L555,382.5 Q550.5,384 547.3,382 Z" fill="#161616" />
<path d="M556.5,381 L564,380.5 L571,384.5 Q571.8,387.3 569,387.6 L558,387.3 Q556,385 556.5,381 Z" fill="#161616" />
<path d="M546.5,292.5 Q549,286.5 556,286.8 L561,288.3 Q565,291.5 565,298 L565.2,327 L546,327 Q544.8,308 546.5,292.5 Z" fill="#e9e9ea" />
<path d="M559,290.5 L574.5,284 L576,288 L563,299.5 L558.5,300 Z" fill="#c9cacb" />
<path d="M574.3,284 Q576,279.5 578.5,279 Q580.3,281 578.8,284.8 L576.2,288.2 Z" fill="#f5c7a0" />
<ellipse cx="557.5" cy="278" rx="5.3" ry="7" fill="#f5c7a0" />
<path d="M545.8,277 Q545,266.8 554,266.8 Q563,266.8 562.5,275 Q559.5,272.3 555.8,273.8 Q554.5,277 554.5,281 L552.8,284.5 Q546.5,283.5 545.8,277 Z" fill="#b7a24f" />
<polygon points="606.9,325.6 628.8,336.6 650.7,325.6 628.8,314.7" fill="#d2d2d3" />
<polygon points="606.9,325.6 628.8,336.6 628.8,363.5 606.9,350.3" fill="#f4f4f4" />
<polygon points="628.8,312.8 651.6,324.7 651.6,377.0 628.8,363.5" fill="#f4f4f4" />
<polygon points="651.6,324.7 674.5,312.8 674.5,339.0 651.6,351.5" fill="#9b9b9c" />
<polygon points="628.8,312.8 651.6,324.7 674.5,312.8 651.6,301.9" fill="#efefef" />
<polygon points="651.6,351.2 674.5,364.0 696.4,352.1 674.5,338.4" fill="#d2d2d3" />
<polygon points="651.6,351.2 674.5,364.0 674.5,390.5 651.6,377.0" fill="#f4f4f4" />
<polygon points="674.5,364.0 696.4,352.1 696.4,377.7 674.5,390.5" fill="#9b9b9c" />
<text transform="matrix(0.866,0.5,0,1,610.3,351)" font-size="25" font-weight="700" fill="#6c6c6e" stroke="#6c6c6e" stroke-width=".7" textLength="13.5" lengthAdjust="spacingAndGlyphs">2</text>
<text transform="matrix(0.866,0.5,0,1,633.2,338)" font-size="25" font-weight="700" fill="#ef8223" stroke="#ef8223" stroke-width=".7" textLength="13.5" lengthAdjust="spacingAndGlyphs">1</text>
<text transform="matrix(0.866,0.5,0,1,656.8,377.5)" font-size="25" font-weight="700" fill="#6c6c6e" stroke="#6c6c6e" stroke-width=".7" textLength="13.5" lengthAdjust="spacingAndGlyphs">3</text>
<path d="M643.5,258 L664.8,258 L665.5,285 L664.8,312 L658.5,312.5 L657.3,288 L655.3,272 L653.5,290 L651,307 L644.8,306.5 L644.3,284 Z" fill="#565658" />
<path d="M639.7,309 Q641.5,305.5 646,305.3 L651.3,306 L651.8,310 Q646,312.5 640.5,311.8 Z" fill="#161616" />
<path d="M652.5,315 Q654.5,311.3 659,311 L665,311.5 L665.4,315.5 Q659,318 653.3,317.3 Z" fill="#161616" />
<polygon points="653.3,270.0 668.5,262.0 674.6,265.3 674.6,279.5 659.5,287.7 653.3,284.3" fill="#6e4320" />
<polygon points="659.5,273.3 674.6,265.3 674.6,279.5 659.5,287.7" fill="#8b5a2b" />
<polygon points="653.3,270.0 668.5,262.0 674.6,265.3 659.5,273.3" fill="#a06a35" />
<path d="M660,268.5 Q660.5,262.5 665,261.5 Q668,262.5 667.5,265" fill="none" stroke="#4a2c12" stroke-width="1.3"/>
<path d="M641.5,228 Q644,223.3 650,223.2 L659,224 Q665.5,226 666.3,233 L668,262 L641,262 Q639.3,245 641.5,228 Z" fill="#434345" />
<path d="M649.5,223.2 L653.8,236 L658,224 Z" fill="#fff" />
<path d="M652.9,226 L654.5,226 L655,234 L653.8,237 L652.5,234 Z" fill="#1f1f1f" />
<path d="M660,226 Q666,227 667,235 L669.3,258 L665,262 L662.5,244 Z" fill="#353536" />
<ellipse cx="667.3" cy="261.5" rx="2.4" ry="2.6" fill="#f5c7a0" />
<path d="M641,230.5 L637,196 L641.5,195 L648.5,226 L645.5,236 Z" fill="#434345" />
<ellipse cx="638.8" cy="193.5" rx="2.8" ry="3" fill="#f5c7a0" />
<path d="M622.8,177.5 L636.5,175 Q637.5,183 634,189 Q631,192.5 627.5,191.5 Q623.5,187 622.8,177.5 Z" fill="#f1d21f" />
<path d="M626,179 Q630,184 629,190.5" fill="none" stroke="#c9a416" stroke-width="1.4"/>
<path d="M627,191 L633,190 L634.5,196 L634,201 L626.5,201.5 L625.5,197 Z" fill="#7b5a1e" />
<ellipse cx="651.5" cy="213" rx="5.3" ry="7" fill="#f5c7a0" />
<path d="M645.3,209 Q646,203 653,203.3 Q660.5,204 660,212 Q659.5,219 656,220.5 Q656.3,214 654,211.5 Q651.5,208.5 645.3,209 Z" fill="#7a4a2b" />
<polygon points="592.0,404.0 612.0,392.0 640.0,398.5 622.0,409.0" fill="#000" opacity=".13"/>
<path d="M588.8,341 L606.3,341 L606.2,370 L605.3,399 L598.8,399.5 L598,374 L597,358 L595.8,376 L595.5,395.5 L589.3,395.5 L588.8,368 Z" fill="#565658" />
<path d="M589,395 L596,395 L596.8,400.5 Q592.5,402 589.3,400 Z" fill="#161616" />
<path d="M598.5,399 L605.8,398.5 L612.5,402.5 Q613.3,405.3 610.5,405.6 L600,405.3 Q598,403 598.5,399 Z" fill="#161616" />
<path d="M588,311.5 Q590.5,305.5 597.5,305.8 L602.5,307.3 Q606.8,310.5 606.8,317 L607,346 L587.5,346 Q586.3,327 588,311.5 Z" fill="#8d7667" />
<path d="M600.5,309.5 L618.5,302 L620.3,306 L605,318.5 L600,319 Z" fill="#7d6759" />
<path d="M618.3,302 Q620,296.5 622.5,295.5 Q624.5,297.5 623,301.8 L620.4,306.2 Z" fill="#f5c7a0" />
<path d="M602,313 L619.5,305.5 L621.3,309.5 L606.5,322 L601.5,322.5 Z" fill="#6f5b4f" />
<path d="M619.5,305.5 Q621.3,300 623.8,299 Q625.8,301 624.3,305.3 L621.5,309.7 Z" fill="#f5c7a0" />
<ellipse cx="598.5" cy="296.5" rx="5.4" ry="7.2" fill="#f5c7a0" />
<path d="M587.3,295 Q586.5,284.5 595.5,284.5 Q604.5,284.5 604,293 Q601,290.3 597.3,291.8 Q596,295 596,299 L594.3,302.5 Q588,301.5 587.3,295 Z" fill="#7a4a2b" />
<path d="M873,176 L893,174 L894.5,196 L898.5,221 L892.5,223 L886.5,200 L882,190 L878,205 L872,219.5 L866,218 L869,200 Z" fill="#565658" />
<path d="M862.5,218 L871.5,219 L871,223 Q866,224 862,222 Z" fill="#161616" />
<path d="M889,222.5 L897.5,219.5 L899.5,222.5 Q895,227.5 889,228.5 Q887.5,225 889,222.5 Z" fill="#4a2c1a" />
<line x1="849.3" y1="166" x2="849.3" y2="208" stroke="#a3a5a8" stroke-width="2.4" stroke-linecap="round" />
<line x1="849.3" y1="165.5" x2="874.2" y2="176.5" stroke="#a3a5a8" stroke-width="2.6" stroke-linecap="round" />
<line x1="874.2" y1="176.5" x2="874.2" y2="236" stroke="#a3a5a8" stroke-width="2.4" stroke-linecap="round" />
<path d="M870.5,141 Q873,136 879,136 L887,137.5 Q893.5,140 894.5,148 L895.5,178 L869.5,180 Q866.5,160 870.5,141 Z" fill="#434345" />
<path d="M877,136.3 L880.5,148 L885.5,137.3 Z" fill="#fff" />
<path d="M879.8,139 L881.3,139 L881.8,146.5 L880.6,149.5 L879.3,146.5 Z" fill="#1f1f1f" />
<path d="M871.5,142 L857.5,159 L855,162.5 L858.5,166 L866,160 L875,150 Z" fill="#434345" />
<ellipse cx="855.3" cy="164.5" rx="2.7" ry="2.4" fill="#f5c7a0" />
<path d="M886.5,143 Q893,145 892.5,153 L886,167 L872.5,174.5 L870.5,170.5 L880,163 L883.5,152 Z" fill="#353536" />
<ellipse cx="870.5" cy="172.5" rx="2.7" ry="2.4" fill="#f5c7a0" />
<ellipse cx="878" cy="127" rx="5" ry="6.8" fill="#f5c7a0" />
<path d="M871,122.5 Q871.8,114.5 879.5,114.8 Q887,115.5 886.5,123.5 Q886,130.5 882.5,132 Q882.8,125.5 880.5,123 Q878,120 871,122.5 Z" fill="#7a4a2b" />
<ellipse cx="803.8" cy="250.8" rx="4.0" ry="4.3" fill="#1e1e1f" />
<ellipse cx="803.8" cy="250.8" rx="1.6" ry="1.8" fill="#77797b" />
<ellipse cx="826.2" cy="262" rx="4.0" ry="4.3" fill="#1e1e1f" />
<ellipse cx="826.2" cy="262" rx="1.6" ry="1.8" fill="#77797b" />
<ellipse cx="866.5" cy="239.5" rx="4.0" ry="4.3" fill="#1e1e1f" />
<ellipse cx="866.5" cy="239.5" rx="1.6" ry="1.8" fill="#77797b" />
<polygon points="799.0,243.9 827.0,257.4 872.0,230.5 844.0,217.5" fill="#c6c7c9" />
<polygon points="799.0,243.9 827.0,257.4 827.0,261.0 799.0,247.5" fill="#8e9092" />
<polygon points="827.0,257.4 872.0,230.5 872.0,234.0 827.0,261.0" fill="#6f7173" />
<polygon points="831.1,226.0 839.4,230.0 839.4,222.8 831.1,218.8" fill="#43ae55" /><polygon points="839.4,230.0 853.2,221.9 853.2,214.7 839.4,222.8" fill="#2c9443" /><polygon points="831.1,218.8 839.4,222.8 853.2,214.7 844.9,210.7" fill="#9fd8a6" /><polygon points="836.2,217.6 841.2,220.0 848.1,215.9 843.1,213.5" fill="#57bb67" /><polygon points="845.2,226.6 847.4,225.3 847.4,218.1 845.2,219.4" fill="#dff2e1" /><polygon points="834.0,227.4 836.5,228.6 836.5,221.4 834.0,220.2" fill="#7fcf8c" />
<polygon points="839.4,230.0 847.7,234.0 847.7,226.8 839.4,222.8" fill="#43ae55" /><polygon points="847.7,234.0 861.5,225.9 861.5,218.7 847.7,226.8" fill="#2c9443" /><polygon points="839.4,222.8 847.7,226.8 861.5,218.7 853.2,214.7" fill="#9fd8a6" /><polygon points="844.5,221.6 849.5,224.0 856.4,219.9 851.4,217.5" fill="#57bb67" /><polygon points="853.5,230.6 855.7,229.3 855.7,222.1 853.5,223.4" fill="#dff2e1" /><polygon points="842.3,231.4 844.8,232.6 844.8,225.4 842.3,224.2" fill="#7fcf8c" />
<polygon points="847.7,234.0 856.0,238.0 856.0,230.8 847.7,226.8" fill="#43ae55" /><polygon points="856.0,238.0 869.8,229.9 869.8,222.7 856.0,230.8" fill="#2c9443" /><polygon points="847.7,226.8 856.0,230.8 869.8,222.7 861.5,218.7" fill="#9fd8a6" /><polygon points="852.8,225.6 857.8,228.0 864.7,223.9 859.7,221.5" fill="#57bb67" /><polygon points="861.8,234.6 864.0,233.3 864.0,226.1 861.8,227.4" fill="#dff2e1" /><polygon points="850.6,235.4 853.1,236.6 853.1,229.4 850.6,228.2" fill="#7fcf8c" />
<polygon points="817.3,234.1 825.6,238.1 825.6,230.9 817.3,226.9" fill="#43ae55" /><polygon points="825.6,238.1 839.4,230.0 839.4,222.8 825.6,230.9" fill="#2c9443" /><polygon points="817.3,226.9 825.6,230.9 839.4,222.8 831.1,218.8" fill="#9fd8a6" /><polygon points="822.4,225.7 827.4,228.1 834.3,224.0 829.3,221.6" fill="#57bb67" /><polygon points="831.4,234.7 833.6,233.4 833.6,226.2 831.4,227.5" fill="#dff2e1" /><polygon points="820.2,235.5 822.7,236.7 822.7,229.5 820.2,228.3" fill="#7fcf8c" />
<polygon points="825.6,238.1 833.9,242.1 833.9,234.9 825.6,230.9" fill="#43ae55" /><polygon points="833.9,242.1 847.7,234.0 847.7,226.8 833.9,234.9" fill="#2c9443" /><polygon points="825.6,230.9 833.9,234.9 847.7,226.8 839.4,222.8" fill="#9fd8a6" /><polygon points="830.7,229.7 835.7,232.1 842.6,228.0 837.6,225.6" fill="#57bb67" /><polygon points="839.7,238.7 841.9,237.4 841.9,230.2 839.7,231.5" fill="#dff2e1" /><polygon points="828.5,239.5 831.0,240.7 831.0,233.5 828.5,232.3" fill="#7fcf8c" />
<polygon points="833.9,242.1 842.2,246.1 842.2,238.9 833.9,234.9" fill="#43ae55" /><polygon points="842.2,246.1 856.0,238.0 856.0,230.8 842.2,238.9" fill="#2c9443" /><polygon points="833.9,234.9 842.2,238.9 856.0,230.8 847.7,226.8" fill="#9fd8a6" /><polygon points="839.0,233.7 844.0,236.1 850.9,232.0 845.9,229.6" fill="#57bb67" /><polygon points="848.0,242.7 850.2,241.4 850.2,234.2 848.0,235.5" fill="#dff2e1" /><polygon points="836.8,243.5 839.3,244.7 839.3,237.5 836.8,236.3" fill="#7fcf8c" />
<polygon points="803.5,242.2 811.8,246.2 811.8,239.0 803.5,235.0" fill="#43ae55" /><polygon points="811.8,246.2 825.6,238.1 825.6,230.9 811.8,239.0" fill="#2c9443" /><polygon points="803.5,235.0 811.8,239.0 825.6,230.9 817.3,226.9" fill="#9fd8a6" /><polygon points="808.6,233.8 813.6,236.2 820.5,232.1 815.5,229.7" fill="#57bb67" /><polygon points="817.6,242.8 819.8,241.5 819.8,234.3 817.6,235.6" fill="#dff2e1" /><polygon points="806.4,243.6 808.9,244.8 808.9,237.6 806.4,236.4" fill="#7fcf8c" />
<polygon points="811.8,246.2 820.1,250.2 820.1,243.0 811.8,239.0" fill="#43ae55" /><polygon points="820.1,250.2 833.9,242.1 833.9,234.9 820.1,243.0" fill="#2c9443" /><polygon points="811.8,239.0 820.1,243.0 833.9,234.9 825.6,230.9" fill="#9fd8a6" /><polygon points="816.9,237.8 821.9,240.2 828.8,236.1 823.8,233.7" fill="#57bb67" /><polygon points="825.9,246.8 828.1,245.5 828.1,238.3 825.9,239.6" fill="#dff2e1" /><polygon points="814.7,247.6 817.2,248.8 817.2,241.6 814.7,240.4" fill="#7fcf8c" />
<polygon points="820.1,250.2 828.4,254.2 828.4,247.0 820.1,243.0" fill="#43ae55" /><polygon points="828.4,254.2 842.2,246.1 842.2,238.9 828.4,247.0" fill="#2c9443" /><polygon points="820.1,243.0 828.4,247.0 842.2,238.9 833.9,234.9" fill="#9fd8a6" /><polygon points="825.2,241.8 830.2,244.2 837.1,240.1 832.1,237.7" fill="#57bb67" /><polygon points="834.2,250.8 836.4,249.5 836.4,242.3 834.2,243.6" fill="#dff2e1" /><polygon points="823.0,251.6 825.5,252.8 825.5,245.6 823.0,244.4" fill="#7fcf8c" />
<polygon points="831.9,219.2 840.2,223.2 840.2,216.0 831.9,212.0" fill="#43ae55" /><polygon points="840.2,223.2 854.0,215.1 854.0,207.9 840.2,216.0" fill="#2c9443" /><polygon points="831.9,212.0 840.2,216.0 854.0,207.9 845.7,203.9" fill="#9fd8a6" /><polygon points="837.0,210.8 842.0,213.2 848.9,209.1 843.9,206.7" fill="#57bb67" /><polygon points="846.0,219.8 848.2,218.5 848.2,211.3 846.0,212.6" fill="#dff2e1" /><polygon points="834.8,220.6 837.3,221.8 837.3,214.6 834.8,213.4" fill="#7fcf8c" />
<polygon points="840.2,223.2 848.5,227.2 848.5,220.0 840.2,216.0" fill="#43ae55" /><polygon points="848.5,227.2 862.3,219.1 862.3,211.9 848.5,220.0" fill="#2c9443" /><polygon points="840.2,216.0 848.5,220.0 862.3,211.9 854.0,207.9" fill="#9fd8a6" /><polygon points="845.3,214.8 850.3,217.2 857.2,213.1 852.2,210.7" fill="#57bb67" /><polygon points="854.3,223.8 856.5,222.5 856.5,215.3 854.3,216.6" fill="#dff2e1" /><polygon points="843.1,224.6 845.6,225.8 845.6,218.6 843.1,217.4" fill="#7fcf8c" />
<polygon points="847.7,226.8 856.0,230.8 856.0,223.6 847.7,219.6" fill="#43ae55" /><polygon points="856.0,230.8 869.8,222.7 869.8,215.5 856.0,223.6" fill="#2c9443" /><polygon points="847.7,219.6 856.0,223.6 869.8,215.5 861.5,211.5" fill="#9fd8a6" /><polygon points="852.8,218.4 857.8,220.8 864.7,216.7 859.7,214.3" fill="#57bb67" /><polygon points="861.8,227.4 864.0,226.1 864.0,218.9 861.8,220.2" fill="#dff2e1" /><polygon points="850.6,228.2 853.1,229.4 853.1,222.2 850.6,221.0" fill="#7fcf8c" />
<polygon points="820.2,226.1 828.5,230.1 828.5,222.9 820.2,218.9" fill="#43ae55" /><polygon points="828.5,230.1 842.3,222.0 842.3,214.8 828.5,222.9" fill="#2c9443" /><polygon points="820.2,218.9 828.5,222.9 842.3,214.8 834.0,210.8" fill="#9fd8a6" /><polygon points="825.3,217.7 830.3,220.1 837.2,216.0 832.2,213.6" fill="#57bb67" /><polygon points="834.3,226.7 836.5,225.4 836.5,218.2 834.3,219.5" fill="#dff2e1" /><polygon points="823.1,227.5 825.6,228.7 825.6,221.5 823.1,220.3" fill="#7fcf8c" />
<polygon points="828.5,230.1 836.8,234.1 836.8,226.9 828.5,222.9" fill="#43ae55" /><polygon points="836.8,234.1 850.6,226.0 850.6,218.8 836.8,226.9" fill="#2c9443" /><polygon points="828.5,222.9 836.8,226.9 850.6,218.8 842.3,214.8" fill="#9fd8a6" /><polygon points="833.6,221.7 838.6,224.1 845.5,220.0 840.5,217.6" fill="#57bb67" /><polygon points="842.6,230.7 844.8,229.4 844.8,222.2 842.6,223.5" fill="#dff2e1" /><polygon points="831.4,231.5 833.9,232.7 833.9,225.5 831.4,224.3" fill="#7fcf8c" />
<polygon points="836.0,233.7 844.3,237.7 844.3,230.5 836.0,226.5" fill="#43ae55" /><polygon points="844.3,237.7 858.1,229.6 858.1,222.4 844.3,230.5" fill="#2c9443" /><polygon points="836.0,226.5 844.3,230.5 858.1,222.4 849.8,218.4" fill="#9fd8a6" /><polygon points="841.1,225.3 846.1,227.7 853.0,223.6 848.0,221.2" fill="#57bb67" /><polygon points="850.1,234.3 852.3,233.0 852.3,225.8 850.1,227.1" fill="#dff2e1" /><polygon points="838.9,235.1 841.4,236.3 841.4,229.1 838.9,227.9" fill="#7fcf8c" />
<polygon points="806.4,234.2 814.7,238.2 814.7,231.0 806.4,227.0" fill="#43ae55" /><polygon points="814.7,238.2 828.5,230.1 828.5,222.9 814.7,231.0" fill="#2c9443" /><polygon points="806.4,227.0 814.7,231.0 828.5,222.9 820.2,218.9" fill="#9fd8a6" /><polygon points="811.5,225.8 816.5,228.2 823.4,224.1 818.4,221.7" fill="#57bb67" /><polygon points="820.5,234.8 822.7,233.5 822.7,226.3 820.5,227.6" fill="#dff2e1" /><polygon points="809.3,235.6 811.8,236.8 811.8,229.6 809.3,228.4" fill="#7fcf8c" />
<polygon points="814.7,238.2 823.0,242.2 823.0,235.0 814.7,231.0" fill="#43ae55" /><polygon points="823.0,242.2 836.8,234.1 836.8,226.9 823.0,235.0" fill="#2c9443" /><polygon points="814.7,231.0 823.0,235.0 836.8,226.9 828.5,222.9" fill="#9fd8a6" /><polygon points="819.8,229.8 824.8,232.2 831.7,228.1 826.7,225.7" fill="#57bb67" /><polygon points="828.8,238.8 831.0,237.5 831.0,230.3 828.8,231.6" fill="#dff2e1" /><polygon points="817.6,239.6 820.1,240.8 820.1,233.6 817.6,232.4" fill="#7fcf8c" />
<polygon points="822.2,241.8 830.5,245.8 830.5,238.6 822.2,234.6" fill="#43ae55" /><polygon points="830.5,245.8 844.3,237.7 844.3,230.5 830.5,238.6" fill="#2c9443" /><polygon points="822.2,234.6 830.5,238.6 844.3,230.5 836.0,226.5" fill="#9fd8a6" /><polygon points="827.3,233.4 832.3,235.8 839.2,231.7 834.2,229.3" fill="#57bb67" /><polygon points="836.3,242.4 838.5,241.1 838.5,233.9 836.3,235.2" fill="#dff2e1" /><polygon points="825.1,243.2 827.6,244.4 827.6,237.2 825.1,236.0" fill="#7fcf8c" />
<polygon points="836.1,214.0 844.4,218.0 844.4,210.8 836.1,206.8" fill="#43ae55" /><polygon points="844.4,218.0 858.2,209.9 858.2,202.7 844.4,210.8" fill="#2c9443" /><polygon points="836.1,206.8 844.4,210.8 858.2,202.7 849.9,198.7" fill="#9fd8a6" /><polygon points="841.2,205.6 846.2,208.0 853.1,203.9 848.1,201.5" fill="#57bb67" /><polygon points="850.2,214.6 852.4,213.3 852.4,206.1 850.2,207.4" fill="#dff2e1" /><polygon points="839.0,215.4 841.5,216.6 841.5,209.4 839.0,208.2" fill="#7fcf8c" />
<polygon points="844.4,218.0 852.7,222.0 852.7,214.8 844.4,210.8" fill="#43ae55" /><polygon points="852.7,222.0 866.5,213.9 866.5,206.7 852.7,214.8" fill="#2c9443" /><polygon points="844.4,210.8 852.7,214.8 866.5,206.7 858.2,202.7" fill="#9fd8a6" /><polygon points="849.5,209.6 854.5,212.0 861.4,207.9 856.4,205.5" fill="#57bb67" /><polygon points="858.5,218.6 860.7,217.3 860.7,210.1 858.5,211.4" fill="#dff2e1" /><polygon points="847.3,219.4 849.8,220.6 849.8,213.4 847.3,212.2" fill="#7fcf8c" />
<polygon points="825.0,220.5 833.3,224.5 833.3,217.3 825.0,213.3" fill="#43ae55" /><polygon points="833.3,224.5 847.1,216.4 847.1,209.2 833.3,217.3" fill="#2c9443" /><polygon points="825.0,213.3 833.3,217.3 847.1,209.2 838.8,205.2" fill="#9fd8a6" /><polygon points="830.1,212.1 835.1,214.5 842.0,210.4 837.0,208.0" fill="#57bb67" /><polygon points="839.1,221.1 841.3,219.8 841.3,212.6 839.1,213.9" fill="#dff2e1" /><polygon points="827.9,221.9 830.4,223.1 830.4,215.9 827.9,214.7" fill="#7fcf8c" />
<polygon points="833.3,224.5 841.6,228.5 841.6,221.3 833.3,217.3" fill="#43ae55" /><polygon points="841.6,228.5 855.4,220.4 855.4,213.2 841.6,221.3" fill="#2c9443" /><polygon points="833.3,217.3 841.6,221.3 855.4,213.2 847.1,209.2" fill="#9fd8a6" /><polygon points="838.4,216.1 843.4,218.5 850.3,214.4 845.3,212.0" fill="#57bb67" /><polygon points="847.4,225.1 849.6,223.8 849.6,216.6 847.4,217.9" fill="#dff2e1" /><polygon points="836.2,225.9 838.7,227.1 838.7,219.9 836.2,218.7" fill="#7fcf8c" />
<polygon points="812.6,227.8 820.9,231.8 820.9,224.6 812.6,220.6" fill="#43ae55" /><polygon points="820.9,231.8 834.7,223.7 834.7,216.5 820.9,224.6" fill="#2c9443" /><polygon points="812.6,220.6 820.9,224.6 834.7,216.5 826.4,212.5" fill="#9fd8a6" /><polygon points="817.7,219.3 822.7,221.7 829.6,217.7 824.6,215.3" fill="#57bb67" /><polygon points="826.7,228.4 828.9,227.1 828.9,219.9 826.7,221.2" fill="#dff2e1" /><polygon points="815.5,229.2 818.0,230.4 818.0,223.2 815.5,222.0" fill="#7fcf8c" />
<polygon points="820.9,231.8 829.2,235.8 829.2,228.6 820.9,224.6" fill="#43ae55" /><polygon points="829.2,235.8 843.0,227.7 843.0,220.5 829.2,228.6" fill="#2c9443" /><polygon points="820.9,224.6 829.2,228.6 843.0,220.5 834.7,216.5" fill="#9fd8a6" /><polygon points="826.0,223.3 831.0,225.7 837.9,221.7 832.9,219.3" fill="#57bb67" /><polygon points="835.0,232.4 837.2,231.1 837.2,223.9 835.0,225.2" fill="#dff2e1" /><polygon points="823.8,233.2 826.3,234.4 826.3,227.2 823.8,226.0" fill="#7fcf8c" />
<polygon points="836.1,211.2 844.4,215.2 844.4,208.0 836.1,204.0" fill="#43ae55" /><polygon points="844.4,215.2 858.2,207.1 858.2,199.9 844.4,208.0" fill="#2c9443" /><polygon points="836.1,204.0 844.4,208.0 858.2,199.9 849.9,195.9" fill="#9fd8a6" /><polygon points="841.2,202.8 846.2,205.2 853.1,201.2 848.1,198.8" fill="#57bb67" /><polygon points="850.2,211.8 852.4,210.5 852.4,203.3 850.2,204.6" fill="#dff2e1" /><polygon points="839.0,212.6 841.5,213.8 841.5,206.6 839.0,205.4" fill="#7fcf8c" />
<polygon points="823.7,218.5 832.0,222.5 832.0,215.3 823.7,211.3" fill="#43ae55" /><polygon points="832.0,222.5 845.8,214.4 845.8,207.2 832.0,215.3" fill="#2c9443" /><polygon points="823.7,211.3 832.0,215.3 845.8,207.2 837.5,203.2" fill="#9fd8a6" /><polygon points="828.8,210.1 833.8,212.5 840.7,208.4 835.7,206.0" fill="#57bb67" /><polygon points="837.8,219.1 840.0,217.8 840.0,210.6 837.8,211.9" fill="#dff2e1" /><polygon points="826.6,219.9 829.1,221.1 829.1,213.9 826.6,212.7" fill="#7fcf8c" />
</svg>
</body></html>
